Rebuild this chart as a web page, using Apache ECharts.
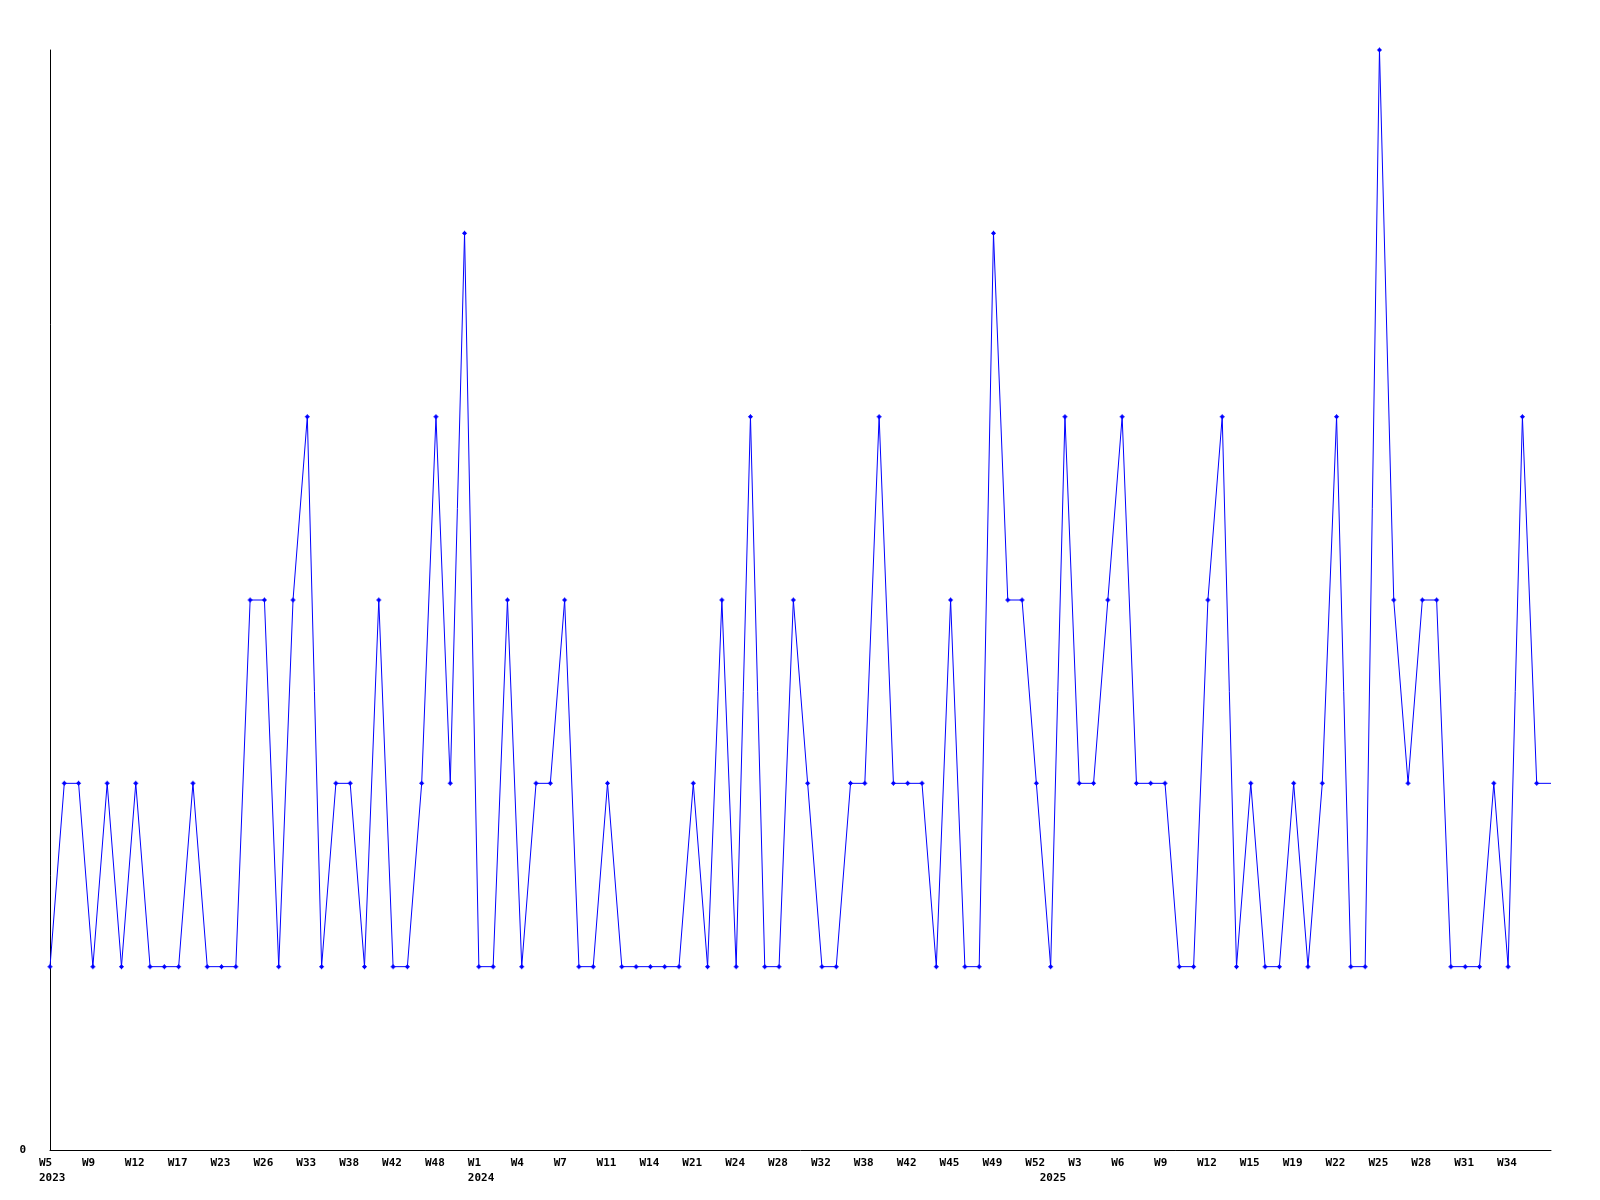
<!DOCTYPE html>
<html>
<head>
<meta charset="utf-8">
<script src="https://cdn.jsdelivr.net/npm/echarts@6/dist/echarts.min.js"></script>
<style>html,body{margin:0;padding:0;background:#fff}#c{width:1600px;height:1200px}</style>
</head>
<body>
<div id="c"></div>
<script>
const weeks = [5,6,8,9,10,11,12,14,16,17,19,21,23,24,25,26,28,31,33,35,36,38,39,40,42,44,46,48,50,52,
  1,2,3,4,5,6,7,9,10,11,12,13,14,16,19,21,22,23,24,26,27,28,30,31,32,34,36,38,39,40,42,43,44,45,46,48,49,50,51,52,
  1,2,3,4,5,6,7,8,9,10,11,12,13,14,15,16,18,19,20,21,22,23,24,25,26,27,28,29,30,31,32,33,34,35,36,37];
const years = [].concat(Array(30).fill(2023), Array(40).fill(2024), Array(36).fill(2025));
const values = [1,2,2,1,2,1,2,1,1,1,2,1,1,1,3,3,1,3,4,1,2,2,1,3,1,1,2,4,2,5,
  1,1,3,1,2,2,3,1,1,2,1,1,1,1,1,2,1,3,1,4,1,1,3,2,1,1,2,2,4,2,2,2,1,3,1,1,5,3,3,2,
  1,4,2,2,3,4,2,2,2,1,1,3,4,1,2,1,1,2,1,2,4,1,1,6,3,2,3,3,1,1,1,2,1,4,2,2];

const categories = weeks.map((w, i) => 'W' + w + ' ' + years[i]);
const lastIdx = values.length - 1;
const seriesData = values.map((v, i) => i === lastIdx ? {value: v, symbol: 'none'} : v);

const labelFont = {fontFamily: 'DejaVu Sans Mono', fontWeight: 'bold', fontSize: 11, lineHeight: 15, color: '#000'};
const richBox = {a: Object.assign({width: 22, align: 'left'}, labelFont)};

const chart = echarts.init(document.getElementById('c'));
chart.setOption({
  animation: false,
  backgroundColor: '#ffffff',
  grid: {left: 50, right: 49, top: 50, bottom: 50},
  xAxis: [{
    type: 'category',
    data: categories,
    boundaryGap: false,
    axisLine: {lineStyle: {color: '#000', width: 1}},
    axisTick: {show: false},
    axisLabel: Object.assign({
      interval: 2,
      margin: 6,
      rich: richBox,
      formatter: function (val, idx) {
        if (idx === lastIdx) return '';
        return '{a|W' + weeks[idx] + '}';
      }
    }, labelFont),
    splitLine: {show: false}
  }, {
    type: 'category',
    position: 'bottom',
    data: categories,
    boundaryGap: false,
    axisLine: {show: false},
    axisTick: {show: false},
    axisLabel: Object.assign({
      interval: function (idx) { return idx === 0 || years[idx] !== years[idx - 1]; },
      margin: 21,
      rich: richBox,
      formatter: function (val, idx) { return '{a|' + years[idx] + '}'; }
    }, labelFont),
    splitLine: {show: false}
  }],
  yAxis: {
    type: 'value',
    min: 0,
    max: 6,
    interval: 6,
    axisLine: {show: true, lineStyle: {color: '#000', width: 1}},
    axisTick: {show: false},
    splitLine: {show: false},
    axisLabel: {
      margin: 24,
      color: '#000',
      fontFamily: 'DejaVu Sans Mono',
      fontWeight: 'bold',
      fontSize: 11,
      formatter: v => v === 0 ? '0' : ''
    }
  },
  series: [{
    type: 'line',
    xAxisIndex: 0,
    data: seriesData,
    symbol: 'path://M2,0h1v1h1v1h1v1h-1v1h-1v1h-1v-1h-1v-1h-1v-1h1v-1h1z',
    symbolSize: 5,
    showAllSymbol: true,
    lineStyle: {color: '#0000ff', width: 1},
    itemStyle: {color: '#0000ff'}
  }]
});
</script>
</body>
</html>
